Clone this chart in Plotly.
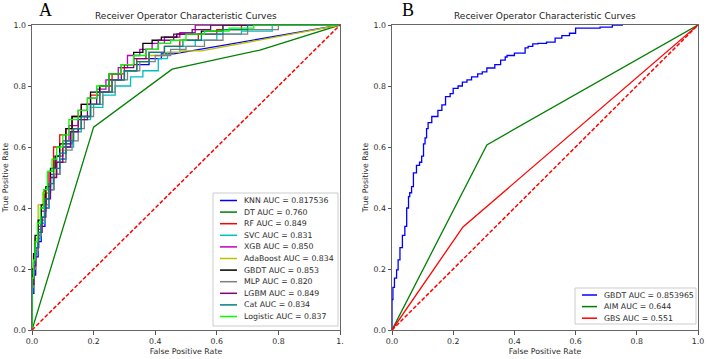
import plotly.graph_objects as go

# ---------------- Panel A data ----------------
names_a = ["KNN", "DT", "RF", "SVC", "XGB", "AdaBoost", "GBDT", "MLP", "LGBM", "Cat", "Logistic"]
auc_a = ["0.817536", "0.760", "0.849", "0.831", "0.850", "0.834", "0.853", "0.820", "0.849", "0.834", "0.837"]
colors_a = ["#0000ff", "#008000", "#ff0000", "#00bfbf", "#bf00bf", "#bfbf00", "#000000", "#808080", "#800080", "#008080", "#00ff00"]

knn_fpr = [0, 0, .006, .012, .02, .03, .042, .055, .07, .09, .11, .13, .16, .19, .22, .26, .30, .34, .38, .42, .46, 1]
knn_tpr = [0, .06, .12, .18, .24, .29, .34, .40, .46, .51, .56, .61, .66, .70, .74, .78, .82, .85, .87, .89, .905, 1]

dt_fpr = [0, .20, .455, .74, 1]
dt_tpr = [0, .665, .855, .918, 1]

rf_fpr = [0, 0, .005, .01, .02, .03, .04, .055, .07, .09, .11, .13, .16, .19, .22, .26, .30, .34, .38, .43, .48, .54, .60, .68, .78, 1]
rf_tpr = [0, .11, .18, .24, .29, .34, .40, .46, .52, .60, .64, .66, .70, .74, .77, .80, .84, .87, .89, .91, .93, .95, .97, .985, 1, 1]

svc_fpr = [0, 0, .005, .01, .018, .028, .04, .055, .07, .09, .11, .135, .16, .19, .23, .27, .32, .36, .41, .44, .48, .53, .60, .68, .78, .88, 1]
svc_tpr = [0, .08, .15, .20, .25, .30, .35, .40, .46, .51, .56, .60, .65, .69, .73, .77, .80, .83, .85, .89, .91, .93, .95, .97, .98, 1, 1]

xgb_fpr = [0, 0, .005, .012, .02, .03, .045, .06, .08, .10, .12, .15, .18, .21, .24, .28, .31, .35, .39, .43, .48, .53, .60, 1]
xgb_tpr = [0, .10, .16, .22, .27, .33, .39, .45, .51, .57, .62, .67, .72, .76, .79, .82, .86, .90, .92, .94, .96, .975, 1, 1]

ada_fpr = [0, 0, .005, .01, .02, .035, .06, .075, .09, .11, .13, .16, .19, .22, .26, .30, .34, .38, .43, .48, .55, 1]
ada_tpr = [0, .09, .16, .22, .30, .41, .45, .50, .55, .59, .62, .66, .70, .74, .78, .82, .85, .88, .90, .91, .915, 1]

gbdt_fpr = [0, 0, .005, .01, .02, .03, .045, .06, .075, .09, .11, .13, .16, .19, .22, .25, .29, .33, .36, .39, .42, .47, .55, .62, .70, 1]
gbdt_tpr = [0, .12, .20, .25, .31, .36, .41, .47, .53, .57, .61, .66, .70, .74, .78, .80, .84, .87, .91, .94, .95, .96, .97, .98, 1, 1]

mlp_fpr = [0, 0, .006, .012, .02, .03, .042, .056, .072, .09, .11, .13, .15, .17, .20, .23, .27, .31, .35, .40, .45, .50, .56, .62, .70, .80, .90, 1]
mlp_tpr = [0, .07, .14, .20, .26, .31, .36, .41, .46, .51, .55, .59, .62, .66, .70, .74, .78, .82, .85, .88, .90, .92, .93, .95, .97, .985, 1, 1]

lgbm_fpr = [0, 0, .006, .012, .022, .033, .045, .06, .08, .10, .125, .15, .18, .21, .25, .29, .33, .37, .41, .46, .52, .58, .66, 1]
lgbm_tpr = [0, .09, .15, .21, .27, .32, .37, .43, .50, .55, .60, .65, .69, .74, .78, .82, .86, .89, .92, .95, .97, .985, 1, 1]

cat_fpr = [0, 0, .005, .01, .02, .03, .042, .055, .07, .09, .11, .135, .16, .19, .22, .26, .30, .34, .38, .43, .49, .55, .62, .70, .80, 1]
cat_tpr = [0, .10, .17, .22, .27, .32, .37, .43, .48, .53, .58, .62, .66, .70, .74, .78, .82, .85, .88, .91, .93, .95, .97, .985, 1, 1]

log_fpr = [0, 0, .005, .01, .018, .027, .038, .05, .065, .08, .10, .12, .15, .18, .21, .25, .29, .33, .37, .41, .45, .50, .56, .64, .72, .82, 1]
log_tpr = [0, .10, .17, .23, .29, .35, .40, .46, .52, .56, .60, .64, .69, .72, .76, .80, .84, .87, .90, .92, .94, .95, .97, .98, .99, 1, 1]

curves_a = [
    (knn_fpr, knn_tpr, "tail"),
    (dt_fpr, dt_tpr, "linear"),
    (rf_fpr, rf_tpr, "step"),
    (svc_fpr, svc_tpr, "step"),
    (xgb_fpr, xgb_tpr, "step"),
    (ada_fpr, ada_tpr, "tail"),
    (gbdt_fpr, gbdt_tpr, "step"),
    (mlp_fpr, mlp_tpr, "step"),
    (lgbm_fpr, lgbm_tpr, "step"),
    (cat_fpr, cat_tpr, "step"),
    (log_fpr, log_tpr, "step"),
]

# ---------------- Panel B data ----------------
names_b = ["GBDT", "AIM", "GBS"]
auc_b = ["0.853965", "0.644", "0.551"]
colors_b = ["#0000ff", "#008000", "#ff0000"]

gbdt_b_fpr = [0, 0, .003, .008, .015, .02, .026, .034, .042, .048, .054, .058, .064, .07, .08, .09, .097, .103, .108, .113, .118, .13, .15, .163, .175, .19, .2, .216, .23, .245, .26, .28, .295, .31, .336, .355, .37, .376, .40, .435, .445, .46, .477, .505, .533, .555, .58, .60, .62, .68, .72, .755]
gbdt_b_tpr = [0, .056, .10, .14, .17, .197, .23, .27, .31, .34, .40, .437, .45, .47, .515, .54, .55, .57, .61, .63, .66, .68, .70, .72, .738, .765, .775, .792, .80, .813, .82, .83, .84, .846, .859, .87, .885, .895, .90, .908, .925, .93, .938, .94, .944, .957, .965, .973, .99, .99, .993, 1.0]

aim_fpr = [0, .31, 1]
aim_tpr = [0, .607, 1]
gbs_fpr = [0, .232, 1]
gbs_tpr = [0, .338, 1]

diag = [0, 1]
ticks = [0, 0.2, 0.4, 0.6, 0.8, 1.0]
ticktext_a = ["0.0", "0.2", "0.4", "0.6", "0.8", "1."]
ticktext_b = ["0.0", "0.2", "0.4", "0.6", "0.8", "1.0"]

title_text = "Receiver Operator Characteristic Curves"
FONT = "DejaVu Sans"
LW = 1.3

fig = go.Figure()

# Panel A traces
for (fx, ty, kind), col in zip(curves_a, colors_a):
    if kind == "linear":
        fig.add_trace(go.Scatter(x=fx, y=ty, mode="lines", line=dict(color=col, width=LW),
                                 xaxis="x", yaxis="y", showlegend=False, hoverinfo="skip"))
    elif kind == "step":
        fig.add_trace(go.Scatter(x=fx, y=ty, mode="lines", line=dict(color=col, width=LW, shape="vh"),
                                 xaxis="x", yaxis="y", showlegend=False, hoverinfo="skip"))
    else:
        fig.add_trace(go.Scatter(x=fx[:-1], y=ty[:-1], mode="lines", line=dict(color=col, width=LW, shape="vh"),
                                 xaxis="x", yaxis="y", showlegend=False, hoverinfo="skip"))
        fig.add_trace(go.Scatter(x=fx[-2:], y=ty[-2:], mode="lines", line=dict(color=col, width=LW),
                                 xaxis="x", yaxis="y", showlegend=False, hoverinfo="skip"))
fig.add_trace(go.Scatter(x=diag, y=diag, mode="lines", line=dict(color="#ff0000", width=1.5, dash="4px,2px"),
                         xaxis="x", yaxis="y", showlegend=False, hoverinfo="skip"))

# Panel B traces
fig.add_trace(go.Scatter(x=gbdt_b_fpr, y=gbdt_b_tpr, mode="lines", line=dict(color=colors_b[0], width=LW, shape="vh"),
                         xaxis="x2", yaxis="y2", showlegend=False, hoverinfo="skip"))
fig.add_trace(go.Scatter(x=aim_fpr, y=aim_tpr, mode="lines", line=dict(color=colors_b[1], width=LW),
                         xaxis="x2", yaxis="y2", showlegend=False, hoverinfo="skip"))
fig.add_trace(go.Scatter(x=gbs_fpr, y=gbs_tpr, mode="lines", line=dict(color=colors_b[2], width=LW),
                         xaxis="x2", yaxis="y2", showlegend=False, hoverinfo="skip"))
fig.add_trace(go.Scatter(x=diag, y=diag, mode="lines", line=dict(color="#ff0000", width=1.5, dash="4px,2px"),
                         xaxis="x2", yaxis="y2", showlegend=False, hoverinfo="skip"))

W, H = 708, 359
ML, MR, MT, MB = 32, 10, 25, 29
PW, PH = W - ML - MR, H - MT - MB


def px(xp):
    return (xp - ML) / PW


def py(yp):
    return (H - MB - yp) / PH


axis_common = dict(range=[0, 1], showgrid=False, zeroline=False, showline=True, mirror=True,
                   linecolor="#666666", linewidth=1, ticks="outside", ticklen=3.5, tickwidth=0.8,
                   tickcolor="#555555", tickfont=dict(family=FONT, size=7.8, color="#2a2a2a"),
                   tickvals=ticks, automargin=False)
title_font = dict(family=FONT, size=7.8, color="#2a2a2a")

xa = dict(axis_common, domain=[0, px(340)], ticktext=ticktext_a,
          title=dict(text="False Positive Rate", font=title_font, standoff=3))
xb = dict(axis_common, domain=[px(392), 1], ticktext=ticktext_b, anchor="y2",
          title=dict(text="False Positive Rate", font=title_font, standoff=3))
ya = dict(axis_common, domain=[0, 1], ticktext=ticktext_b, anchor="x",
          title=dict(text="True Positive Rate", font=title_font, standoff=3))
yb = dict(axis_common, domain=[0, 1], ticktext=ticktext_b, anchor="x2",
          title=dict(text="True Positive Rate", font=title_font, standoff=3))

shapes = []
annotations = []

# Titles and panel letters
for cx, letter, lx in [((32 + 340) / 2, "A", 45), ((392 + 698) / 2, "B", 408)]:
    annotations.append(dict(x=px(cx), y=py(16), xref="paper", yref="paper", text=title_text, showarrow=False,
                            font=dict(family=FONT, size=9, color="#222222"), xanchor="center", yanchor="middle"))
    annotations.append(dict(x=px(lx), y=py(10), xref="paper", yref="paper", text=letter, showarrow=False,
                            font=dict(family="Liberation Serif", size=18, color="#000000"),
                            xanchor="center", yanchor="middle"))


def manual_legend(box, first_y, step, line_x, text_x, names, aucs, cols):
    shapes.append(dict(type="rect", xref="paper", yref="paper", x0=px(box[0]), x1=px(box[1]),
                       y0=py(box[2]), y1=py(box[3]), line=dict(color="#cccccc", width=1), fillcolor="white",
                       layer="above"))
    for i, (n, a, c) in enumerate(zip(names, aucs, cols)):
        yy = first_y + step * i
        shapes.append(dict(type="line", xref="paper", yref="paper", x0=px(line_x[0]), x1=px(line_x[1]),
                           y0=py(yy), y1=py(yy), line=dict(color=c, width=1.5), layer="above"))
        annotations.append(dict(x=px(text_x), y=py(yy), xref="paper", yref="paper",
                                text=f"{n} AUC = {a}", showarrow=False, xanchor="left", yanchor="middle",
                                font=dict(family=FONT, size=7.8, color="#2a2a2a")))


manual_legend((213, 338, 193, 326), 200.5, 11.6, (220, 237), 242, names_a, auc_a, colors_a)
manual_legend((575, 696, 288, 324), 295, 11.6, (582, 597), 602, names_b, auc_b, colors_b)

fig.update_layout(
    width=W, height=H, margin=dict(l=ML, r=MR, t=MT, b=MB),
    paper_bgcolor="white", plot_bgcolor="white",
    xaxis=xa, yaxis=ya, xaxis2=xb, yaxis2=yb,
    shapes=shapes, annotations=annotations, showlegend=False,
)

fig.write_html("out.html", config={"displayModeBar": False},
               post_script="document.body.style.margin='0px';document.body.style.overflow='hidden';")
